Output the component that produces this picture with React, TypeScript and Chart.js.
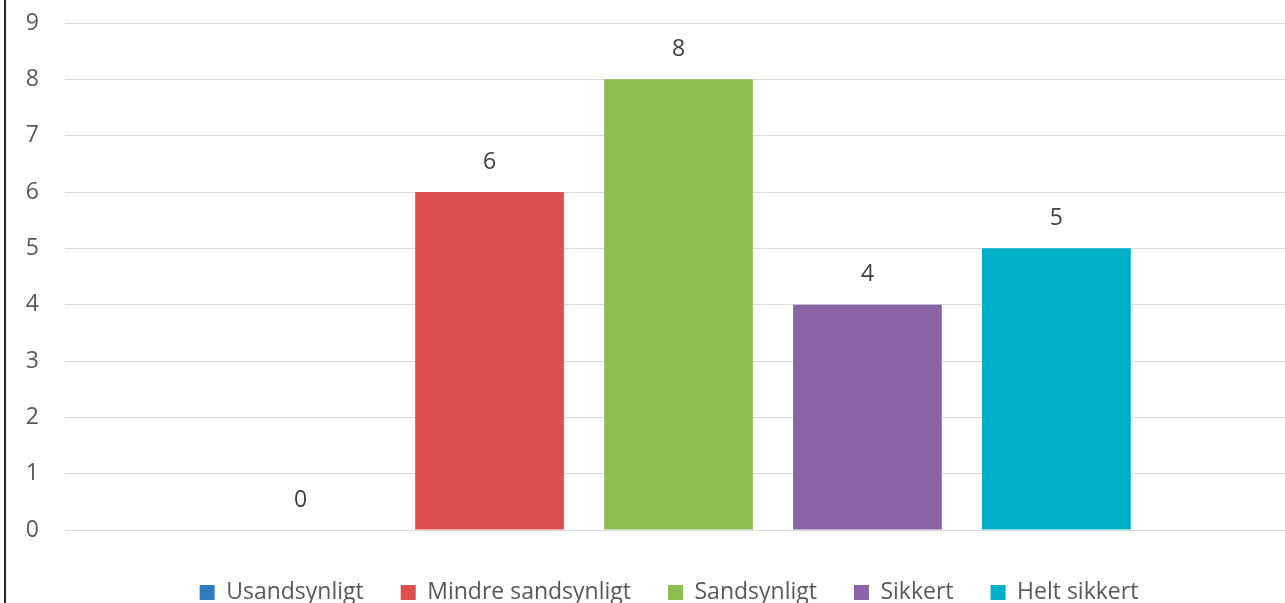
import React, { useEffect, useRef } from "react";
import { Chart, registerables } from "chart.js";

Chart.register(...registerables);

const categories = [""];
const seriesNames = ["Usandsynligt", "Mindre sandsynligt", "Sandsynligt", "Sikkert", "Helt sikkert"];
const seriesValues = [0, 6, 8, 4, 5];
const seriesColors = ["#2E7BC0", "#DE4F4F", "#8EBD52", "#8A64A6", "#00AFC8"];
const yTicks = [0, 1, 2, 3, 4, 5, 6, 7, 8, 9];

const FONT = "'Open Sans', sans-serif";
const FS = 23;

const valueLabels = {
  id: "valueLabels",
  afterDatasetsDraw(chart: any) {
    const ctx = chart.ctx;
    ctx.save();
    ctx.font = `${FS}px ${FONT}`;
    ctx.fillStyle = "#404040";
    ctx.textAlign = "center";
    ctx.textBaseline = "middle";
    chart.data.datasets.forEach((ds: any, i: number) => {
      const meta = chart.getDatasetMeta(i);
      meta.data.forEach((el: any, j: number) => {
        ctx.fillText(String(ds.data[j]), el.x, el.y - 30);
      });
    });
    ctx.restore();
  },
};

const legendShift = {
  id: "legendShift",
  afterLayout(chart: any) {
    if (chart.legend) {
      chart.legend.left += 23;
      chart.legend.right += 23;
    }
  },
};

export default function App() {
  const ref = useRef<HTMLCanvasElement>(null);
  useEffect(() => {
    const chart = new Chart(ref.current!, {
      type: "bar",
      data: {
        labels: categories,
        datasets: seriesNames.map((n, i) => ({
          label: n,
          data: [seriesValues[i]],
          backgroundColor: seriesColors[i],
          borderWidth: 0,
          barPercentage: 0.787,
          categoryPercentage: 0.77,
        })),
      },
      options: {
        responsive: false,
        animation: false,
        devicePixelRatio: 1,
        layout: { padding: { top: 23, left: 0, right: 0, bottom: 0 } },
        plugins: {
          tooltip: { enabled: false },
          legend: {
            position: "bottom",
            labels: {
              font: { family: FONT, size: FS },
              color: "#595959",
              boxWidth: 15,
              boxHeight: 15,
              padding: 37,
            },
          },
        },
        scales: {
          x: {
            grid: { display: false },
            border: { color: "#D9D9D9", width: 1 },
            ticks: { display: false },
            afterFit: (s: any) => {
              s.height = 14;
            },
          },
          y: {
            min: 0,
            max: 9,
            afterBuildTicks: (s: any) => {
              s.ticks = yTicks.map((v) => ({ value: v }));
            },
            afterFit: (s: any) => {
              s.width = 65;
              s.paddingTop = 0;
              s.paddingBottom = 0;
            },
            grid: { color: "#D9D9D9", lineWidth: 1, drawTicks: false },
            border: { display: false },
            ticks: {
              padding: 26,
              color: "#595959",
              font: { family: FONT, size: FS },
            },
          },
        },
      },
      plugins: [valueLabels, legendShift],
    });
    return () => chart.destroy();
  }, []);
  return (
    <div style={{ position: "fixed", left: 0, top: 0, width: 1285, height: 603, overflow: "hidden", background: "#fff" }}>
      <canvas ref={ref} width={1292} height={614} style={{ position: "absolute", left: 0, top: 0 }} />
      <div style={{ position: "absolute", left: 4, top: 0, width: 2, height: 603, background: "#262626" }} />
    </div>
  );
}
